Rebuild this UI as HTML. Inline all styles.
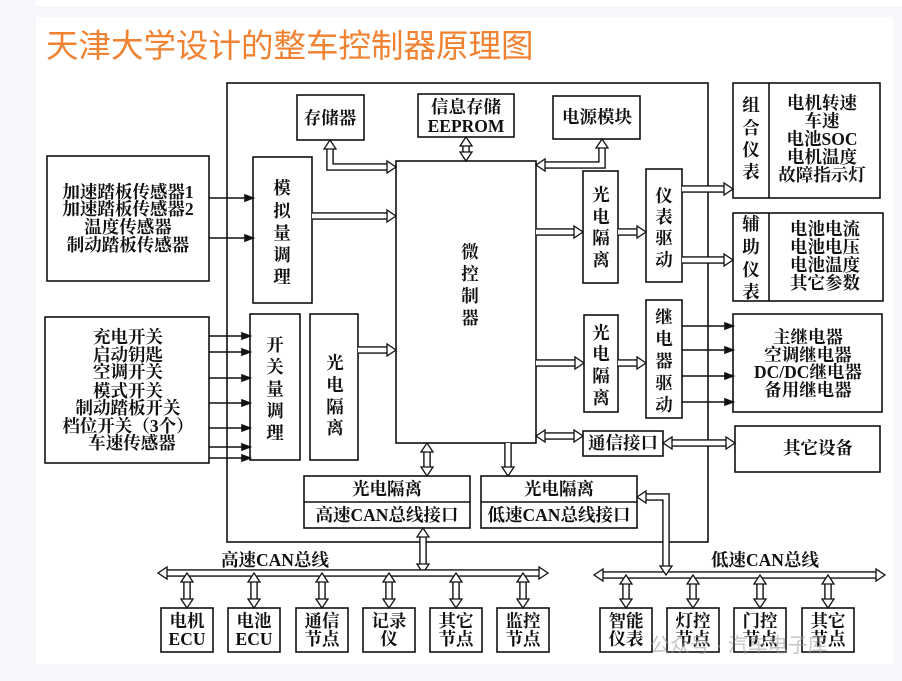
<!DOCTYPE html>
<html><head><meta charset="utf-8"><style>
html,body{margin:0;padding:0;width:902px;height:681px;overflow:hidden;background:#f5f7fb}
#panel{position:absolute;left:36px;top:17px;width:857px;height:647px;background:#fff}
#top{position:absolute;left:36px;top:0;width:866px;height:6px;background:#fff}
svg{position:absolute;left:0;top:0}
text{font-family:"Liberation Serif","Noto Serif CJK SC",serif;font-weight:bold;font-size:17.5px;fill:#111;text-anchor:middle;dominant-baseline:central}
.t{font-family:"Liberation Sans","Noto Sans CJK SC",sans-serif;font-weight:normal;font-size:32.5px;fill:#f08232;text-anchor:start}
.wm{font-family:"Liberation Sans","Noto Sans CJK SC",sans-serif;font-weight:normal;font-size:20px;fill:#999;opacity:.55;text-anchor:start}
</style></head><body>
<div id="top"></div><div id="panel"></div>
<svg width="902" height="681" id="s">
<text class="t" x="46" y="46">天津大学设计的整车控制器原理图</text>
<g fill="none" stroke="#111" stroke-width="1.6">
<rect x="227" y="83" width="481" height="459"/>
<rect x="297" y="95" width="67" height="45"/>
<rect x="418" y="94" width="96" height="43"/>
<rect x="553" y="96" width="87" height="43"/>
<rect x="396" y="161" width="140" height="282"/>
<rect x="47" y="156" width="162" height="125" fill="#fff"/>
<rect x="253" y="157" width="59" height="146" fill="#fff"/>
<rect x="45" y="317" width="164" height="146" fill="#fff"/>
<rect x="250" y="314" width="50" height="146" fill="#fff"/>
<rect x="310" y="314" width="48" height="146"/>
<rect x="583" y="171" width="35" height="112"/>
<rect x="646" y="169" width="36" height="113"/>
<rect x="584" y="315" width="34" height="97"/>
<rect x="646" y="300" width="36" height="118"/>
<rect x="583" y="431" width="80" height="25" fill="#fff"/>
<rect x="733" y="83" width="147" height="115"/><line x1="769" y1="83" x2="769" y2="198"/>
<rect x="733" y="213" width="150" height="88"/><line x1="769" y1="213" x2="769" y2="301"/>
<rect x="733" y="314" width="149" height="98"/>
<rect x="735" y="426" width="145" height="46"/>
<rect x="304" y="476" width="166" height="52" fill="#fff"/><line x1="304" y1="502" x2="470" y2="502"/>
<rect x="481" y="476" width="156" height="52" fill="#fff"/><line x1="481" y1="502" x2="637" y2="502"/>
<rect x="161" y="608" width="52" height="44"/><rect x="228" y="608" width="52" height="44"/>
<rect x="296" y="608" width="52" height="44"/><rect x="363" y="608" width="52" height="44"/>
<rect x="430" y="608" width="52" height="44"/><rect x="497" y="608" width="52" height="44"/>
<rect x="600" y="608" width="52" height="44"/><rect x="667" y="608" width="52" height="44"/>
<rect x="734" y="608" width="52" height="44"/><rect x="802" y="608" width="52" height="44"/>
</g>
<g id="arrows" fill="#fff" stroke="#111" stroke-width="1.3"></g>
<g id="thin" stroke="#111" stroke-width="1.6" fill="#111"></g>
<text x="330" y="118">存储器</text>
<text x="466" y="107">信息存储</text><text x="466" y="126">EEPROM</text>
<text x="597" y="117">电源模块</text>
<text x="128" y="192">加速踏板传感器1</text><text x="128" y="209">加速踏板传感器2</text>
<text x="128" y="227">温度传感器</text><text x="128" y="245">制动踏板传感器</text>
<text x="128" y="337">充电开关</text><text x="128" y="355">启动钥匙</text><text x="128" y="372">空调开关</text>
<text x="128" y="391">模式开关</text><text x="128" y="408">制动踏板开关</text><text x="128" y="426">档位开关（3个）</text>
<text x="132" y="443">车速传感器</text>
<text x="822" y="103">电机转速</text><text x="822" y="121">车速</text><text x="822" y="139">电池SOC</text>
<text x="822" y="157">电机温度</text><text x="822" y="175">故障指示灯</text>
<text x="825" y="229">电池电流</text><text x="825" y="247">电池电压</text><text x="825" y="265">电池温度</text><text x="825" y="283">其它参数</text>
<text x="808" y="337">主继电器</text><text x="808" y="355">空调继电器</text><text x="808" y="372">DC/DC继电器</text><text x="808" y="390">备用继电器</text>
<text x="818" y="448">其它设备</text>
<text x="623" y="443">通信接口</text>
<text x="387" y="489">光电隔离</text><text x="387" y="515">高速CAN总线接口</text>
<text x="559" y="489">光电隔离</text><text x="559" y="515">低速CAN总线接口</text>
<text x="275" y="560">高速CAN总线</text><text x="765" y="560">低速CAN总线</text>
<text x="187" y="621">电机</text><text x="187" y="639">ECU</text>
<text x="254" y="621">电池</text><text x="254" y="639">ECU</text>
<text x="322" y="621">通信</text><text x="322" y="639">节点</text>
<text x="389" y="621">记录</text><text x="389" y="639">仪</text>
<text x="456" y="621">其它</text><text x="456" y="639">节点</text>
<text x="523" y="621">监控</text><text x="523" y="639">节点</text>
<text x="626" y="621">智能</text><text x="626" y="639">仪表</text>
<text x="693" y="621">灯控</text><text x="693" y="639">节点</text>
<text x="760" y="621">门控</text><text x="760" y="639">节点</text>
<text x="828" y="621">其它</text><text x="828" y="639">节点</text>
<text class="wm" x="650" y="646">公众号 · 汽车电子库</text>
</svg>
<script>
var NS="http://www.w3.org/2000/svg";
function poly(pts,g){var p=document.createElementNS(NS,"polygon");p.setAttribute("points",pts.map(function(a){return a[0].toFixed(1)+","+a[1].toFixed(1)}).join(" "));document.getElementById(g).appendChild(p);}
function ha(pts,dbl){
 var w=2.5,hw=6,hl=9;
 var g=document.getElementById("arrows");
 var P=pts.map(function(a){return a.slice()});
 function shorten(a,b){var dx=b[0]-a[0],dy=b[1]-a[1],l=Math.hypot(dx,dy);return [b[0]-dx/l*hl,b[1]-dy/l*hl];}
 var n=P.length;
 var endTip=P[n-1],endPrev=P[n-2];P[n-1]=shorten(endPrev,endTip);
 var startTip=P[0];if(dbl){P[0]=shorten(P[1],P[0]);}
 var sh=document.createElementNS(NS,"polyline");
 sh.setAttribute("points",P.map(function(a){return a.join(",")}).join(" "));
 sh.setAttribute("stroke","#111");sh.setAttribute("stroke-width",2*w+2.6);sh.setAttribute("fill","none");sh.setAttribute("stroke-linejoin","miter");g.appendChild(sh);
 var sh2=sh.cloneNode();sh2.setAttribute("stroke","#fff");sh2.setAttribute("stroke-width",2*w-0.2);g.appendChild(sh2);
 function head(tip,base){var dx=tip[0]-base[0],dy=tip[1]-base[1],l=Math.hypot(dx,dy),ux=dx/l,uy=dy/l;
  var bx=tip[0]-ux*hl,by=tip[1]-uy*hl;poly([tip,[bx-uy*hw,by+ux*hw],[bx+uy*hw,by-ux*hw]],"arrows");}
 head(endTip,endPrev);if(dbl)head(startTip,pts[1]);
}
function ta(x1,y1,x2,y2){var g=document.getElementById("thin");var l=document.createElementNS(NS,"line");
 l.setAttribute("x1",x1);l.setAttribute("y1",y1);l.setAttribute("x2",x2-7);l.setAttribute("y2",y2);g.appendChild(l);
 poly([[x2,y2],[x2-8,y2-3],[x2-8,y2+3]],"thin");}
ta(209,198,253,198);ta(209,238,253,238);
[336,352,378,403,428,447,458].forEach(function(y){ta(209,y,250,y)});
[326,350,376,402].forEach(function(y){ta(682,y,733,y)});
ha([[330,140],[330,167],[396,167]],true);
ha([[466,137],[466,161]],true);
ha([[602,139],[602,165],[536,165]],true);
ha([[312,216],[396,216]]);
ha([[358,350],[396,350]]);
ha([[536,232],[583,232]]);ha([[618,232],[646,232]]);
ha([[682,189],[733,189]]);ha([[682,260],[733,260]]);
ha([[536,363],[584,363]]);ha([[618,363],[646,363]]);
ha([[536,436],[583,436]],true);
ha([[663,443],[735,443]],true);
ha([[427,443],[427,476]],true);ha([[508,443],[508,476]]);
ha([[423,528],[423,573]],true);
ha([[158,573],[548,573]],true);
ha([[594,575],[885,575]],true);
ha([[637,497],[666,497],[666,575]],true);
[187,254,322,389,456,523].forEach(function(x){ha([[x,573],[x,608]],true)});
[626,693,760,828].forEach(function(x){ha([[x,575],[x,608]],true)});
</script>
<svg width="902" height="681">
<text x="282" y="188">模</text><text x="282" y="211">拟</text><text x="282" y="233">量</text><text x="282" y="255">调</text><text x="282" y="277">理</text>
<text x="275" y="345">开</text><text x="275" y="367">关</text><text x="275" y="389">量</text><text x="275" y="411">调</text><text x="275" y="433">理</text>
<text x="335" y="363">光</text><text x="335" y="385">电</text><text x="335" y="407">隔</text><text x="335" y="428">离</text>
<text x="470" y="252">微</text><text x="470" y="274">控</text><text x="470" y="296">制</text><text x="470" y="318">器</text>
<text x="601" y="195">光</text><text x="601" y="217">电</text><text x="601" y="238">隔</text><text x="601" y="260">离</text>
<text x="664" y="196">仪</text><text x="664" y="217">表</text><text x="664" y="238">驱</text><text x="664" y="260">动</text>
<text x="601" y="333">光</text><text x="601" y="354">电</text><text x="601" y="376">隔</text><text x="601" y="398">离</text>
<text x="664" y="317">继</text><text x="664" y="339">电</text><text x="664" y="361">器</text><text x="664" y="383">驱</text><text x="664" y="405">动</text>
<text x="751" y="105">组</text><text x="751" y="128">合</text><text x="751" y="150">仪</text><text x="751" y="172">表</text>
<text x="751" y="224">辅</text><text x="751" y="247">助</text><text x="751" y="270">仪</text><text x="751" y="292">表</text>
</svg>
</body></html>
